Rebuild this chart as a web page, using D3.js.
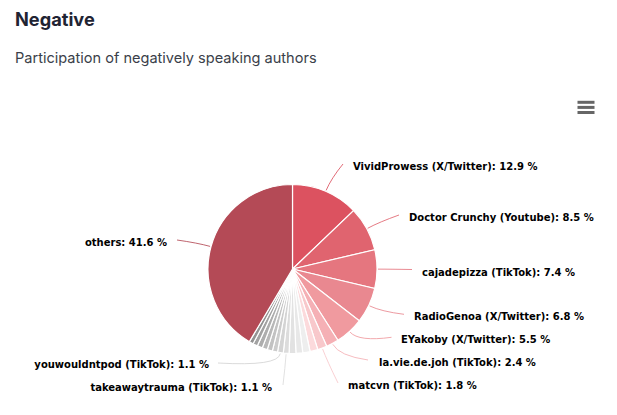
<!DOCTYPE html>
<html>
<head>
<meta charset="utf-8">
<script src="https://cdn.jsdelivr.net/npm/d3@7"></script>
<style>
  html, body { margin: 0; padding: 0; background: #fff; }
  svg { display: block; }
</style>
</head>
<body>
<svg id="chart" width="617" height="415"></svg>
<script>
// values, clockwise from 12 o'clock
var authors = ["VividProwess (X/Twitter)", "Doctor Crunchy (Youtube)", "cajadepizza (TikTok)", "RadioGenoa (X/Twitter)",
  "EYakoby (X/Twitter)", "la.vie.de.joh (TikTok)", "matcvn (TikTok)", "a1", "a2", "a3", "a4", "takeawaytrauma (TikTok)", "youwouldntpod (TikTok)",
  "a5", "a6", "a7", "a8", "a9", "a10", "others"];
var shares = [12.9, 8.5, 7.4, 6.8, 5.5, 2.4, 1.8, 1.5, 1.4, 1.3, 1.3, 1.1, 1.1, 1.0, 1.0, 1.0, 1.0, 0.9, 0.8, 41.6];
var colors = ["#dc5260", "#e0646f", "#e5767f", "#e98890", "#f09a9f", "#f5b0b5", "#f8c8cb", "#fcdadc", "#eeeeee", "#e8e8e8", "#e2e2e2", "#dcdcdc", "#d4d4d4",
  "#cccccc", "#c2c2c2", "#b8b8b8", "#adadad", "#a2a2a2", "#939393", "#b44a56"];

// label text position and the connector's end point, by author
var labelled = ["VividProwess (X/Twitter)", "Doctor Crunchy (Youtube)", "cajadepizza (TikTok)", "RadioGenoa (X/Twitter)",
  "EYakoby (X/Twitter)", "la.vie.de.joh (TikTok)", "matcvn (TikTok)", "takeawaytrauma (TikTok)", "youwouldntpod (TikTok)", "others"];
var labelAnchor = ["start", "start", "start", "start", "start", "start", "start", "end", "end", "end"];
var labelX = [353, 409, 422, 414, 401, 379, 348, 272, 209, 167];
var labelY = [166, 217, 272, 316, 339, 362, 385, 387, 364, 242];
var lineEndX = [343, 399, 412, 404, 391.5, 368, 338, 283, 218, 177];
var lineEndY = [164, 215, 269.5, 314.3, 337.3, 360, 383, 385, 363, 240];

var cx = 292.5, cy = 269, radius = 84.5;
var svg = d3.select("#chart");

svg.append("text").attr("x", 15).attr("y", 25.5)
  .attr("font-family", "Inter").attr("font-weight", 700).attr("font-size", 18.2)
  .attr("fill", "#1f2433").text("Negative");
svg.append("text").attr("x", 15).attr("y", 63.3)
  .attr("font-family", "Inter").attr("font-size", 14.55)
  .attr("fill", "#3b3f4a").text("Participation of negatively speaking authors");

// hamburger menu
svg.selectAll("rect.menu").data([0, 1, 2]).enter().append("rect").attr("class", "menu")
  .attr("x", 577.5).attr("y", function(d) { return 100.8 + d * 5.1; })
  .attr("width", 17).attr("height", 3).attr("fill", "#666");

var pie = d3.pie().sort(null).value(function(d) { return d; });
var arc = d3.arc().innerRadius(0).outerRadius(radius);
var slices = pie(shares);

var g = svg.append("g").attr("transform", "translate(" + cx + "," + cy + ")");
g.selectAll("path").data(slices).enter().append("path")
  .attr("d", arc).attr("fill", function(d, i) { return colors[i]; })
  .attr("stroke", "#fff").attr("stroke-width", 1.2);

// connectors and labels
var overlay = svg.append("g");
labelled.forEach(function(name, i) {
  var k = authors.indexOf(name);
  var mid = (slices[k].startAngle + slices[k].endAngle) / 2;
  var x0 = cx + Math.sin(mid) * (radius + 1), y0 = cy - Math.cos(mid) * (radius + 1);
  var x1 = cx + Math.sin(mid) * (radius + 14), y1 = cy - Math.cos(mid) * (radius + 14);
  overlay.append("path")
    .attr("d", "M" + x0 + "," + y0 + "Q" + x1 + "," + y1 + " " + lineEndX[i] + "," + lineEndY[i])
    .attr("fill", "none").attr("stroke", colors[k]).attr("stroke-width", 1).attr("stroke-opacity", 0.85);
  overlay.append("text").attr("x", labelX[i] + (name == "others" ? 0 : 0)).attr("y", labelY[i] + 4)
    .attr("text-anchor", labelAnchor[i])
    .attr("font-family", "DejaVu Sans").attr("font-weight", 700).attr("font-size", 10)
    .attr("fill", "#000").text(name + ": " + shares[k].toFixed(1) + " %");
});
</script>
</body>
</html>
